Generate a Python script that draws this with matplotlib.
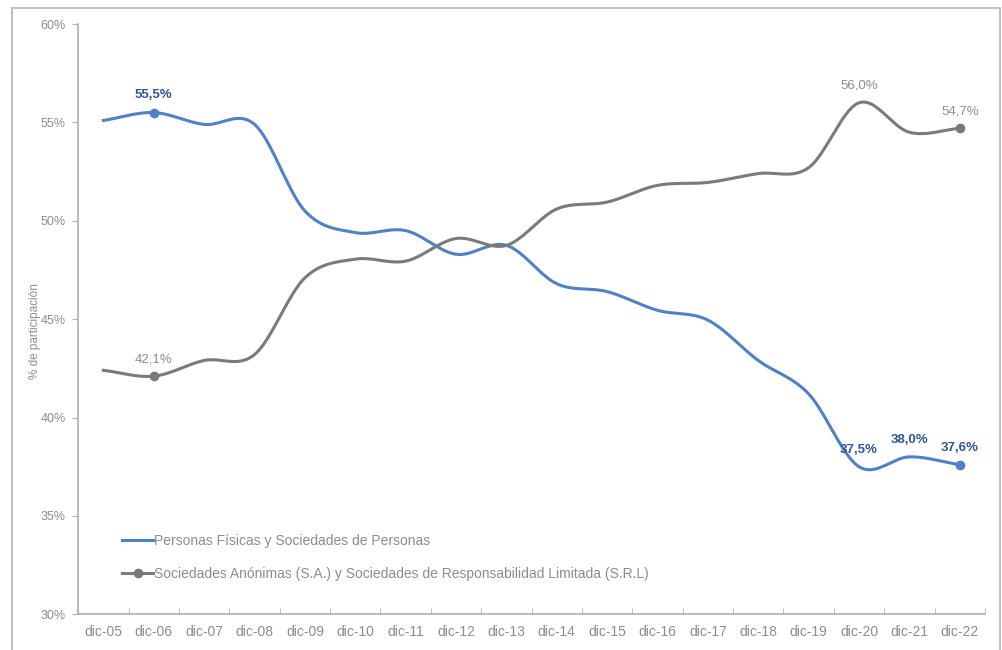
import matplotlib.pyplot as plt
import numpy as np
from matplotlib.patches import Rectangle

plt.rcParams['font.family'] = ['Liberation Sans', 'DejaVu Sans']

# data
periods = ['dic-05', 'dic-06', 'dic-07', 'dic-08', 'dic-09', 'dic-10', 'dic-11', 'dic-12', 'dic-13',
           'dic-14', 'dic-15', 'dic-16', 'dic-17', 'dic-18', 'dic-19', 'dic-20', 'dic-21', 'dic-22']
personas = [55.1, 55.5, 54.9, 54.9, 50.5, 49.4, 49.5, 48.3, 48.75,
            46.8, 46.4, 45.45, 44.95, 42.9, 41.2, 37.5, 38.0, 37.6]
sociedades = [42.4, 42.1, 42.9, 43.2, 47.1, 48.05, 47.95, 49.1, 48.75,
              50.6, 50.95, 51.8, 51.95, 52.4, 52.7, 56.0, 54.5, 54.7]
name_personas = 'Personas Físicas y Sociedades de Personas'
name_sociedades = 'Sociedades Anónimas (S.A.) y Sociedades de Responsabilidad Limitada (S.R.L)'
labels_personas = [1, 15, 16, 17]
markers_personas = [1, 17]
labels_sociedades = [1, 15, 17]
markers_sociedades = [1, 17]

blue = '#4f81c4'
blue_txt = '#2f5597'
gray = '#7a7a7a'
txt = '#8c8c8c'


def smooth(x, y, n=20):
    # Catmull-Rom curve through the points, like a smoothed line in a spreadsheet
    x = np.asarray(x, float)
    y = np.asarray(y, float)
    px = np.concatenate([[2 * x[0] - x[1]], x, [2 * x[-1] - x[-2]]])
    py = np.concatenate([[2 * y[0] - y[1]], y, [2 * y[-1] - y[-2]]])
    xs, ys = [], []
    t = np.linspace(0, 1, n, endpoint=False)
    for i in range(1, len(px) - 2):
        for p, out in ((px, xs), (py, ys)):
            p0, p1, p2, p3 = p[i - 1], p[i], p[i + 1], p[i + 2]
            out.extend(0.5 * (2 * p1 + (-p0 + p2) * t + (2 * p0 - 5 * p1 + 4 * p2 - p3) * t ** 2
                              + (-p0 + 3 * p1 - 3 * p2 + p3) * t ** 3))
    xs.append(x[-1])
    ys.append(y[-1])
    return np.array(xs), np.array(ys)


fig = plt.figure(figsize=(10.03, 6.5), dpi=100)
fig.patches.append(Rectangle((0.012, -0.02), 0.985, 1.007, transform=fig.transFigure,
                             fill=False, edgecolor='#c0c0c0', linewidth=1.5))
ax = fig.add_axes([0.078, 0.055, 0.904, 0.908])

x = np.arange(len(periods))
sx, sy = smooth(x, personas)
ax.plot(sx, sy, color=blue, linewidth=2.2, label=name_personas)
ax.plot(x[markers_personas], np.array(personas)[markers_personas], 'o', color=blue, markersize=6)
sx, sy = smooth(x, sociedades)
ax.plot(sx, sy, color=gray, linewidth=2.2)
ax.plot(x[markers_sociedades], np.array(sociedades)[markers_sociedades], 'o', color=gray, markersize=6)
ax.plot([], [], '-o', color=gray, linewidth=2.2, markersize=6, label=name_sociedades)

for i in labels_personas:
    ax.annotate(f'{personas[i]:.1f}%'.replace('.', ','), (x[i], personas[i]), xytext=(0, 8),
                textcoords='offset points', ha='center', va='bottom', color=blue_txt,
                fontsize=9.5, fontweight='bold')
for i in labels_sociedades:
    ax.annotate(f'{sociedades[i]:.1f}%'.replace('.', ','), (x[i], sociedades[i]), xytext=(0, 8),
                textcoords='offset points', ha='center', va='bottom', color=txt, fontsize=9.5)

ax.set_xlim(-0.5, len(periods) - 0.5)
ax.set_ylim(30, 60)
ax.set_yticks(range(30, 61, 5))
ax.set_yticklabels([f'{v}%' for v in range(30, 61, 5)])
ax.set_xticks(x)
ax.set_xticklabels(periods)
ax.set_xticks(np.arange(-0.5, len(periods), 1), minor=True)
ax.tick_params(axis='x', which='major', length=0, pad=8, labelsize=10, labelcolor=txt)
ax.tick_params(axis='x', which='minor', length=4, color='#b0b0b0', direction='in')
ax.tick_params(axis='y', length=4, color='#b0b0b0', labelsize=9, labelcolor=txt, pad=5)
for s in ('top', 'right'):
    ax.spines[s].set_visible(False)
for s in ('left', 'bottom'):
    ax.spines[s].set_color('#b0b0b0')
    ax.spines[s].set_linewidth(1.2)
ax.set_ylabel('% de participación', fontsize=8.5, color=txt)
ax.yaxis.set_label_coords(-0.041, 0.48)

leg = ax.legend(loc='lower left', bbox_to_anchor=(0.035, 0.035), frameon=False, fontsize=10,
                labelcolor=txt, handlelength=2.2, handletextpad=0.1, labelspacing=1.35)

fig.savefig('out.png', dpi=100)
